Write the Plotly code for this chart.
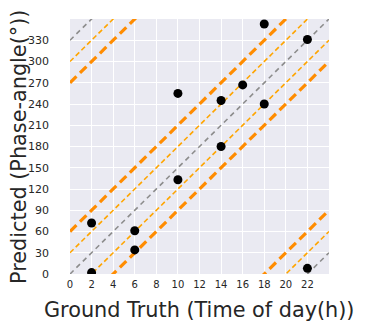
import numpy as np
import plotly.graph_objects as go

# Data
truth_h = [2, 2, 6, 6, 10, 10, 14, 14, 16, 18, 18, 22, 22]
pred_deg = [72, 2, 61, 34, 255, 133, 245, 180, 267, 353, 240, 331, 8]

deg_per_hour = 15
grey_offsets = [0, 330, -330]
thin_offsets = [30, -30, 300, -300]
thick_offsets = [60, -60, 270, -270]

x_ticks = list(range(0, 24, 2))
y_ticks = list(range(0, 360, 30))

xs = np.array([0, 24])
fig = go.Figure()

def add_lines(offsets, color, width, dash):
    for o in offsets:
        fig.add_trace(go.Scatter(x=xs, y=deg_per_hour * xs + o, mode="lines",
                                 line=dict(color=color, width=width, dash=dash),
                                 showlegend=False, hoverinfo="skip"))

add_lines(grey_offsets, "#8c8c8c", 1.6, "5px,4px")
add_lines(thin_offsets, "#FFA500", 1.6, "5px,3px")
add_lines(thick_offsets, "#FF8C00", 3.2, "9px,5px")

fig.add_trace(go.Scatter(x=truth_h, y=pred_deg, mode="markers",
                         marker=dict(color="black", size=9),
                         showlegend=False))

# page body has an 8px margin, so the figure is offset by (8, 8)
OFF = 8
W, H = 366 - OFF, 331 - OFF
L, R, T, B = 70 - OFF, 37, 19 - OFF, 57
pw, ph = W - L - R, H - T - B

def px_to_paper(xp, yp):
    # xp, yp are window pixel coordinates (origin top-left)
    return ((xp - OFF) - L) / pw, (H - (yp - OFF) - B) / ph

ax, ay = px_to_paper(199, 310)
bx, by = px_to_paper(19, 147)

fig.update_layout(
    width=W, height=H,
    margin=dict(l=L, r=R, t=T, b=B),
    paper_bgcolor="white", plot_bgcolor="#EAEAF2",
    font=dict(family="DejaVu Sans", color="#262626"),
    annotations=[
        dict(text="Ground Truth (Time of day(h))", x=ax, y=ay,
             xref="paper", yref="paper", showarrow=False,
             font=dict(size=20.8), xanchor="center", yanchor="middle"),
        dict(text="Predicted (Phase-angle(°))", x=bx, y=by,
             xref="paper", yref="paper", showarrow=False, textangle=-90,
             font=dict(size=20.8), xanchor="center", yanchor="middle"),
    ],
)

fig.update_xaxes(range=[0, 24], tickvals=x_ticks, showgrid=True, gridcolor="white",
                 gridwidth=1.2, zeroline=False, showline=False, ticks="",
                 tickfont=dict(size=10), ticklabelstandoff=3, automargin=False)
fig.update_yaxes(range=[0, 360], tickvals=y_ticks, showgrid=True, gridcolor="white",
                 gridwidth=1.2, zeroline=False, showline=False, ticks="",
                 tickfont=dict(size=11), ticklabelstandoff=20, automargin=False)

fig.write_html("out.html")
